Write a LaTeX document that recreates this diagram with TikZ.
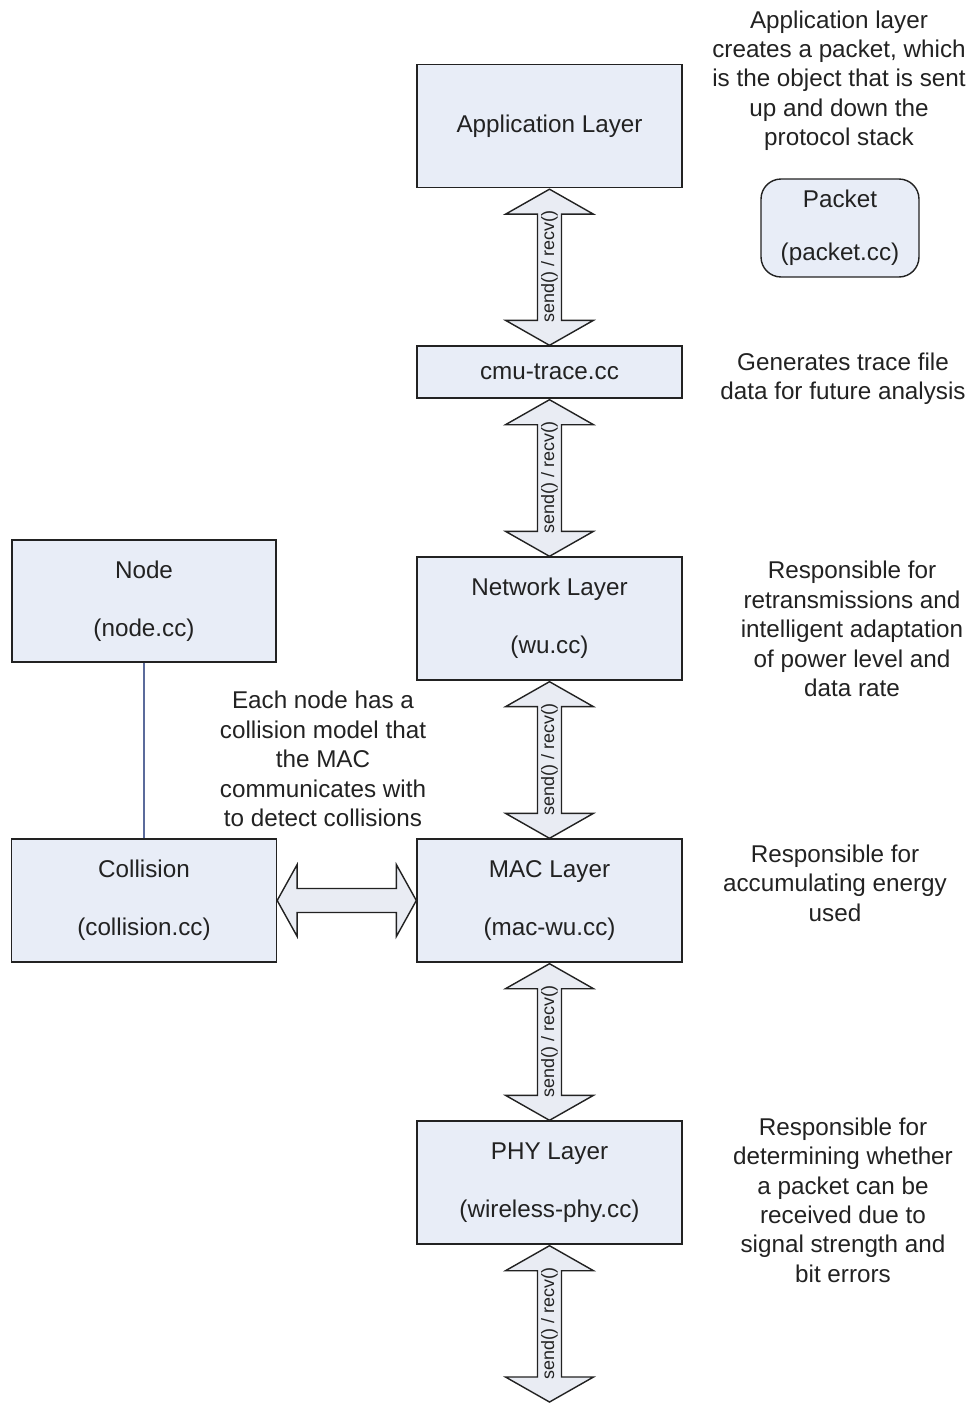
\documentclass[tikz,border=0pt]{standalone}
\usepackage{fontspec}
\setmainfont{Liberation Sans}
\usetikzlibrary{calc}
\definecolor{boxfill}{HTML}{E8EDF7}
\definecolor{arrowfill}{HTML}{E9ECF3}
\definecolor{inkgrey}{HTML}{222222}
\definecolor{linkblue}{HTML}{5B6B9B}

\newcommand{\updown}[2]{%
  \draw[arrowbody] ($(#1.south)+(0,1)$) -- ($(#1.south)+(44,26)$) -- ($(#1.south)+(12,26)$)
    -- ($(#2)+(12,-25)$) -- ($(#2)+(44,-25)$) -- (#2) -- ($(#2)+(-44,-25)$) -- ($(#2)+(-12,-25)$)
    -- ($(#1.south)+(-12,26)$) -- ($(#1.south)+(-44,26)$) -- cycle;
  \node[calls] (lbl#1) at ($(#1.south)!0.5!(#2)$) {send() / recv()};}

\begin{document}
\begin{tikzpicture}[x=0.02cm, y=-0.02cm, line width=0.8pt,
    every node/.style = {text=inkgrey, font=\fontsize{13.8}{16.7}\selectfont},
    layer/.style = {draw=inkgrey, fill=boxfill, align=center, inner sep=0pt, minimum width=5.3cm, minimum height=2.46cm},
    packetbox/.style = {layer, rounded corners=0.4cm, minimum width=3.16cm, minimum height=1.96cm},
    note/.style = {align=center, inner sep=0pt},
    arrowbody/.style = {draw=inkgrey, fill=arrowfill, line join=miter},
    calls/.style = {rotate=90, inner sep=0pt, font=\fontsize{10.2}{12}\selectfont},
    link/.style = {draw=linkblue, line width=0.6pt}]
                  \useasboundingbox (0,0) rectangle (971,1403);
                  % protocol stack
                  \node[layer] (app) at (549.5,126) {Application Layer};
                  \node[layer, minimum height=1.04cm] (trace) at (549.5,372) {cmu-trace.cc};
                  \node[layer] (net) at (549.5,618.5) {Network Layer\\[16.3pt](wu.cc)};
                  \node[layer] (mac) at (549.5,900.5) {MAC Layer\\[16.3pt](mac-wu.cc)};
                  \node[layer] (phy) at (549.5,1182.5) {PHY Layer\\[16.3pt](wireless-phy.cc)};
                  \node[layer, minimum width=5.28cm, minimum height=2.44cm] (nodebox) at (144,601) {Node\\[16.3pt](node.cc)};
                  \node[layer] (coll) at (144,900.5) {Collision\\[16.3pt](collision.cc)};
                  \node[packetbox] (packet) at (840,228) {Packet\\[13.3pt](packet.cc)};
                  \coordinate (phyend) at (549.5,1402);
                  % notes
                  \node[note] (appnote) at (839,80.5) {Application layer\\creates a packet, which\\is the object that is sent\\up and down the\\protocol stack};
                  \node[note] (tracenote) at (843,379) {Generates trace file\\data for future analysis};
                  \node[note] (netnote) at (852,629) {Responsible for\\retransmissions and\\intelligent adaptation\\of power level and\\data rate};
                  \node[note] (macnote) at (835,883) {Responsible for\\accumulating energy\\used};
                  \node[note] (phynote) at (843,1200) {Responsible for\\determining whether\\a packet can be\\received due to\\signal strength and\\bit errors};
                  \node[note] (collnote) at (323,759) {Each node has a\\collision model that\\the MAC\\communicates with\\to detect collisions};
                  % connectors
                  \updown{app}{trace.north}
                  \updown{trace}{net.north}
                  \updown{net}{mac.north}
                  \updown{mac}{phy.north}
                  \updown{phy}{phyend}
                  \draw[link] (nodebox) -- (coll);
                  \draw[arrowbody] (coll.east) -- ($(coll.east)+(20,-36)$) -- ($(coll.east)+(20,-12)$)
                    -- ($(mac.west)+(-20,-12)$) -- ($(mac.west)+(-20,-36)$) -- (mac.west)
                    -- ($(mac.west)+(-20,36)$) -- ($(mac.west)+(-20,12)$) -- ($(coll.east)+(20,12)$)
                    -- ($(coll.east)+(20,36)$) -- cycle;
              \end{tikzpicture}
\end{document}
